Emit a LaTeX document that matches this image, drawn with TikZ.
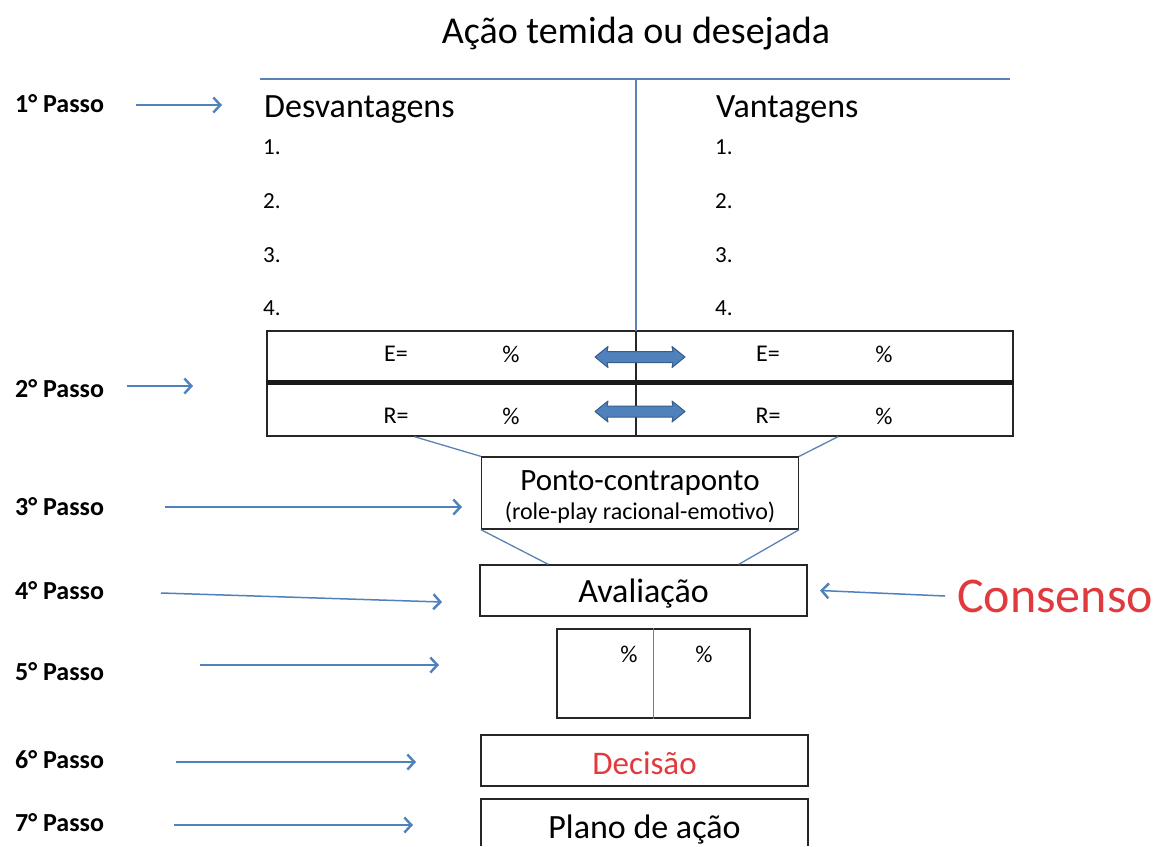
\documentclass[tikz,border=0pt]{standalone}
\usepackage{fontspec}
\setmainfont{Carlito}
\usetikzlibrary{arrows.meta,calc}
\definecolor{ablue}{HTML}{4F81BD}
\definecolor{lblue}{HTML}{5B82B4}
\definecolor{dblue}{HTML}{385D8A}
\definecolor{cred}{HTML}{E03A3E}
\newcommand{\fs}[1]{\fontsize{#1}{#1}\selectfont}
\begin{document}
\begin{tikzpicture}[x=1pt,y=-1pt,
  stepl/.style={font=\bfseries\fs{26}, anchor=west, inner sep=0pt},
  parr/.style={draw=ablue, line width=1.5pt, -{Straight Barb[length=7pt,width=15pt,line width=2.4pt]}},
  bx/.style={draw=black!85, line width=1.3pt, rectangle, inner sep=0pt},
  thin/.style={draw=lblue, line width=1.3pt},
  num/.style={font=\fs{23}, anchor=west, inner sep=0pt},
  hdr/.style={font=\fs{34}, anchor=west, inner sep=0pt},
  cell/.style={font=\fs{24}, inner sep=0pt},
  darr/.style={fill=ablue, draw=dblue, line width=1pt, line join=round},
]
\useasboundingbox (0,0) rectangle (1158,846);
\fill[white] (0,0) rectangle (1158,846);

% title
\node[font=\fs{38}, inner sep=0pt] (title) at (636,34) {Ação temida ou desejada};

% top T-chart
\coordinate (tl) at (260,79);
\coordinate (tr) at (1010,79);
\coordinate (tm) at (636,79);
\draw[thin] (tl) -- (tr);

\node[hdr] (desv) at (264,110) {Desvantagens};
\node[hdr] (vant) at (716,110) {Vantagens};
\foreach \i/\y in {1/147,2/201,3/255,4/308}{
  \node[num] (dl\i) at (263,\y) {\i.};
  \node[num] (vl\i) at (715,\y) {\i.};
}

% table
\node[bx, minimum width=746pt, minimum height=105pt] (tab) at (640,383.5) {};
\coordinate (tabtop) at (636,331);
\coordinate (tabbot) at (636,436);
\draw[thin] (tm) -- (tabtop);
\draw[black!85, line width=1.3pt] (tabtop) -- (tabbot);
\draw[black!90, line width=4.5pt] (tab.west |- 0,382.5) -- (tab.east |- 0,382.5);

\node[cell] (e1) at (396,354) {E=};
\node[cell] (p1) at (511,354) {\%};
\node[cell] (e2) at (768,354) {E=};
\node[cell] (p2) at (884,354) {\%};
\node[cell] (r1) at (396,416) {R=};
\node[cell] (p3) at (511,416) {\%};
\node[cell] (r2) at (768,416) {R=};
\node[cell] (p4) at (884,416) {\%};

% double arrows
\coordinate (da1) at (640,357);
\coordinate (da2) at (640,411.5);
\foreach \c in {da1,da2}{
  \draw[darr] (\c) ++(-45,0) -- ++(13,-10.5) -- ++(-1,5) -- ++(66,0) -- ++(-1,-5)
     -- ++(13,10.5) -- ++(-13,10.5) -- ++(1,-5) -- ++(-66,0) -- ++(1,5) -- cycle;
}

% Ponto-contraponto
\node[bx, minimum width=317pt, minimum height=72pt] (ponto) at (640,493) {};
\node[font=\fs{31}, inner sep=0pt] (pt1) at (640,483) {Ponto-contraponto};
\node[font=\fs{24}, inner sep=0pt] (pt2) at (640,513) {(role-play racional-emotivo)};

\draw[thin] ($(tab.south west)!0.198!(tab.south east)$) -- (ponto.north west);
\draw[thin] ($(tab.south west)!0.765!(tab.south east)$) -- (ponto.north east);

% Avaliacao
\node[bx, minimum width=327pt, minimum height=51pt] (aval) at (643.5,590.5) {};
\node[font=\fs{34}, inner sep=0pt] (avalt) at (643.5,594) {Avaliação};
\draw[thin] (ponto.south west) -- ($(aval.north west)!0.21!(aval.north east)$);
\draw[thin] (ponto.south east) -- ($(aval.north west)!0.79!(aval.north east)$);

% Consenso
\node[font=\fs{50}, text=cred, inner sep=0pt] (cons) at (1055,596) {Consenso};
\coordinate (cs) at (945,596);
\draw[parr] (cs) -- (aval.east -| 820,0);

% percent box
\node[bx, minimum width=193pt, minimum height=89pt] (pbox) at (653.5,673.5) {};
\draw[thin] (pbox.north) -- (pbox.south);
\node[cell] (pc1) at (629,654) {\%};
\node[cell] (pc2) at (704,654) {\%};

% Decisao
\node[bx, minimum width=327pt, minimum height=51pt] (dec) at (644.5,760.5) {};
\node[font=\fs{33}, text=cred, inner sep=0pt] (dect) at (644.5,763) {Decisão};

% Plano de acao (runs off the bottom)
\coordinate (plbl) at (481,846);
\coordinate (pltl) at (481,799);
\coordinate (pltr) at (808,799);
\coordinate (plbr) at (808,846);
\draw[black!85, line width=1.3pt] (plbl) -- (pltl) -- (pltr) -- (plbr);
\node[font=\fs{34}, inner sep=0pt] (plano) at (644.5,830) {Plano de ação};

% steps
\node[stepl] (s1) at (15,104) {1° Passo};
\node[stepl] (s2) at (15,389) {2° Passo};
\node[stepl] (s3) at (15,507) {3° Passo};
\node[stepl] (s4) at (15,591) {4° Passo};
\node[stepl] (s5) at (15,672) {5° Passo};
\node[stepl] (s6) at (15,760) {6° Passo};
\node[stepl] (s7) at (15,823) {7° Passo};

\coordinate (a1s) at (136,105); \coordinate (a1e) at (222,105);
\coordinate (a2s) at (127,386); \coordinate (a2e) at (193,386);
\coordinate (a3s) at (165,507); \coordinate (a3e) at (462,507);
\coordinate (a4s) at (161,593); \coordinate (a4e) at (442,602);
\coordinate (a5s) at (200,665); \coordinate (a5e) at (439,665);
\coordinate (a6s) at (176,762); \coordinate (a6e) at (416,762);
\coordinate (a7s) at (174,825); \coordinate (a7e) at (413,825);
\foreach \k in {1,...,7}{ \draw[parr] (a\k s) -- (a\k e); }
\end{tikzpicture}
\end{document}
